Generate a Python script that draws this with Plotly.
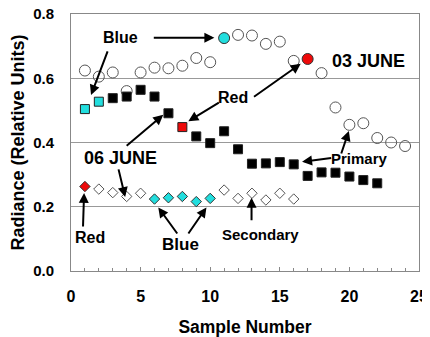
import plotly.graph_objects as go

# ---- data ----
sample_circles = list(range(1, 25))
circle_vals = [0.624, 0.605, 0.618, 0.560, 0.618, 0.633, 0.631, 0.639, 0.663, 0.650,
               0.725, 0.735, 0.733, 0.707, 0.714, 0.654, 0.660, 0.616, 0.509, 0.455,
               0.460, 0.414, 0.400, 0.389]
circle_special = {11: "cyan", 17: "red"}

sample_squares = list(range(1, 23))
square_vals = [0.504, 0.527, 0.538, 0.543, 0.564, 0.543, 0.491, 0.448, 0.419, 0.398,
               0.435, 0.379, 0.334, 0.335, 0.339, 0.332, 0.296, 0.307, 0.306, 0.294,
               0.283, 0.273]
square_special = {1: "cyan", 2: "cyan", 8: "red"}

sample_diamonds = list(range(1, 17))
diamond_vals = [0.263, 0.255, 0.244, 0.232, 0.242, 0.224, 0.228, 0.232, 0.216, 0.226,
                0.252, 0.226, 0.242, 0.221, 0.242, 0.224]
diamond_special = {1: "red", 6: "cyan", 7: "cyan", 8: "cyan", 9: "cyan", 10: "cyan"}

x_ticks = [0, 5, 10, 15, 20, 25]
y_ticks = [0.0, 0.2, 0.4, 0.6, 0.8]
y_tick_text = ["0.0", "0.2", "0.4", "0.6", "0.8"]

CYAN = "#22dede"
RED = "#ee0a0a"
FONT = "Arial, 'Liberation Sans', sans-serif"


def fills(samples, special, default):
    return [{"cyan": CYAN, "red": RED}.get(special.get(s), default) for s in samples]


def lines(samples, special, default):
    return ["#333333" if special.get(s) else default for s in samples]


fig = go.Figure()
fig.add_trace(go.Scatter(
    x=sample_circles, y=circle_vals, mode="markers",
    marker=dict(symbol="circle", size=11,
                color=fills(sample_circles, circle_special, "rgba(0,0,0,0)"),
                line=dict(color=lines(sample_circles, circle_special, "#555555"), width=1)),
    showlegend=False))
fig.add_trace(go.Scatter(
    x=sample_squares, y=square_vals, mode="markers",
    marker=dict(symbol="square", size=9,
                color=fills(sample_squares, square_special, "#000000"),
                line=dict(color="#222222", width=1)),
    showlegend=False))
fig.add_trace(go.Scatter(
    x=sample_diamonds, y=diamond_vals, mode="markers",
    marker=dict(symbol="diamond", size=8,
                color=fills(sample_diamonds, diamond_special, "rgba(0,0,0,0)"),
                line=dict(color=lines(sample_diamonds, diamond_special, "#555555"), width=1)),
    showlegend=False))

# text labels: (text, x, y, size)
labels = [
    ("Blue", 3.53, 0.726, 16),
    ("Red", 11.67, 0.539, 16),
    ("03 JUNE", 21.4, 0.654, 18),
    ("06 JUNE", 3.53, 0.352, 18),
    ("Red", 1.37, 0.103, 16),
    ("Blue", 7.85, 0.081, 17),
    ("Secondary", 13.6, 0.115, 15),
    ("Primary", 20.75, 0.349, 15),
]
# arrows: (tail_x, tail_y, head_x, head_y)
arrows = [
    (5.84, 0.726, 10.3, 0.726),
    (2.67, 0.688, 1.44, 0.548),
    (10.73, 0.527, 8.43, 0.466),
    (13.04, 0.539, 16.5, 0.645),
    (3.89, 0.386, 6.63, 0.486),
    (3.39, 0.321, 3.89, 0.230),
    (0.86, 0.134, 0.94, 0.243),
    (7.71, 0.112, 6.27, 0.198),
    (8.36, 0.112, 9.73, 0.198),
    (12.97, 0.153, 12.97, 0.228),
    (18.8, 0.352, 16.6, 0.340),
    (19.38, 0.361, 19.96, 0.436),
]

annotations = []
for t, x, y, s in labels:
    annotations.append(dict(text="<b>%s</b>" % t, x=x, y=y, xref="x", yref="y",
                            showarrow=False, font=dict(family=FONT, size=s, color="#000")))
for tx, ty, hx, hy in arrows:
    annotations.append(dict(text="", x=hx, y=hy, ax=tx, ay=ty, xref="x", yref="y",
                            axref="x", ayref="y", showarrow=True, arrowhead=2,
                            arrowsize=1, arrowwidth=2, arrowcolor="#000"))

# the page body has an 8px margin, so the figure is sized to the remaining window
fig.update_layout(
    width=422, height=329,
    margin=dict(l=63, r=11, t=6, b=66, autoexpand=False),
    paper_bgcolor="white", plot_bgcolor="white",
    font=dict(family=FONT, color="#000"),
    annotations=annotations,
    xaxis=dict(range=[0, 25], tickvals=x_ticks, ticktext=["<b>%d</b>" % v for v in x_ticks],
               ticks="inside", ticklen=4, automargin=False, ticklabeloverflow="allow",
               tickcolor="#888", showgrid=False, zeroline=False,
               showline=True, linecolor="#888", linewidth=1, mirror=True,
               minor=dict(dtick=1, ticks="inside", ticklen=3, tickcolor="#888"),
               tickfont=dict(size=16, family=FONT), ticklabelstandoff=11,
               title=dict(text="<b>Sample Number</b>", font=dict(size=17.5, family=FONT), standoff=19)),
    yaxis=dict(range=[0, 0.8], tickvals=y_ticks, ticktext=["<b>%s</b>" % v for v in y_tick_text],
               ticks="", showgrid=True, gridcolor="#999", gridwidth=1, zeroline=False,
               showline=True, linecolor="#888", linewidth=1, mirror=True, automargin=False,
               ticklabeloverflow="allow",
               tickfont=dict(size=15, family=FONT), ticklabelstandoff=13,
               title=dict(text="<b>Radiance (Relative Units)</b>", font=dict(size=18, family=FONT), standoff=4)),
)

fig.write_html("out.html")
